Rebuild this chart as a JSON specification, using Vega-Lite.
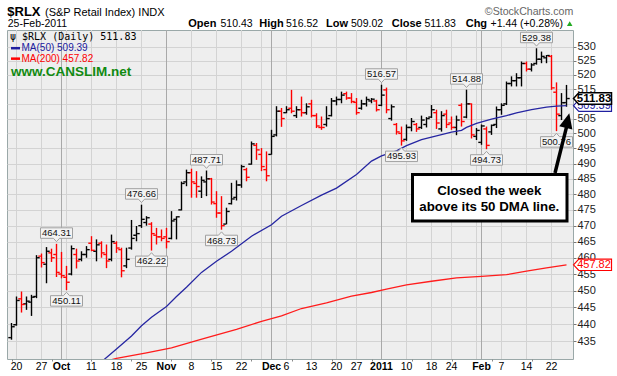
{
  "$schema": "https://vega.github.io/schema/vega-lite/v6.json",
  "width": 566,
  "height": 329,
  "autosize": {"type": "none"},
  "padding": {"left": 7, "top": 30, "right": 44, "bottom": 17},
  "background": "#ffffff",
  "config": {
    "view": {"fill": "#eeeeee", "stroke": "#9aa8a8", "strokeWidth": 1},
    "font": "Liberation Sans"
  },
  "data": {"values": [{}]},
  "datasets": {
    "vgrid": [
      {"i":1,"k":"week"},{"i":6,"k":"week"},{"i":10,"k":"month"},{"i":11,"k":"week"},{"i":16,"k":"week"},{"i":21,"k":"week"},{"i":26,"k":"week"},
      {"i":31,"k":"month"},{"i":36,"k":"week"},{"i":41,"k":"week"},{"i":46,"k":"week"},{"i":50,"k":"week"},{"i":52,"k":"month"},{"i":55,"k":"week"},
      {"i":60,"k":"week"},{"i":65,"k":"week"},{"i":69,"k":"week"},{"i":74,"k":"month"},{"i":79,"k":"week"},{"i":84,"k":"week"},{"i":88,"k":"week"},
      {"i":93,"k":"week"},{"i":94,"k":"month"},{"i":98,"k":"week"},{"i":103,"k":"week"},{"i":108,"k":"week"}
    ],
    "xlab": [
      {"i":1,"t":"20","m":false},{"i":6,"t":"27","m":false},{"i":10,"t":"Oct","m":true},{"i":16,"t":"11","m":false},
      {"i":21,"t":"18","m":false},{"i":26,"t":"25","m":false},{"i":31,"t":"Nov","m":true},{"i":36,"t":"8","m":false},
      {"i":41,"t":"15","m":false},{"i":46,"t":"22","m":false},{"i":52,"t":"Dec","m":true},{"i":55,"t":"6","m":false},
      {"i":60,"t":"13","m":false},{"i":65,"t":"20","m":false},{"i":69,"t":"27","m":false},{"i":74,"t":"2011","m":true},
      {"i":79,"t":"10","m":false},{"i":84,"t":"18","m":false},{"i":88,"t":"24","m":false},{"i":94,"t":"Feb","m":true},
      {"i":98,"t":"7","m":false},{"i":103,"t":"14","m":false},{"i":108,"t":"22","m":false}
    ],
    "bars": [
      {"i":0,"d":"2010-09-17","o":436.0,"h":440.3,"l":435.4,"c":439.2,"dir":"up"},
      {"i":1,"d":"2010-09-20","o":439.8,"h":448.2,"l":439.5,"c":447.0,"dir":"up"},
      {"i":2,"d":"2010-09-21","o":447.5,"h":449.7,"l":443.4,"c":445.8,"dir":"down"},
      {"i":3,"d":"2010-09-22","o":446.0,"h":448.2,"l":444.2,"c":446.8,"dir":"up"},
      {"i":4,"d":"2010-09-23","o":446.5,"h":448.7,"l":442.4,"c":448.0,"dir":"up"},
      {"i":5,"d":"2010-09-24","o":448.2,"h":460.8,"l":447.7,"c":460.0,"dir":"up"},
      {"i":6,"d":"2010-09-27","o":460.5,"h":461.3,"l":457.0,"c":458.5,"dir":"down"},
      {"i":7,"d":"2010-09-28","o":458.0,"h":463.3,"l":452.2,"c":462.0,"dir":"up"},
      {"i":8,"d":"2010-09-29","o":461.5,"h":462.8,"l":458.7,"c":460.0,"dir":"down"},
      {"i":9,"d":"2010-09-30","o":461.0,"h":464.31,"l":454.1,"c":455.5,"dir":"down"},
      {"i":10,"d":"2010-10-01","o":455.0,"h":461.8,"l":453.7,"c":454.5,"dir":"down"},
      {"i":11,"d":"2010-10-04","o":454.0,"h":457.5,"l":450.11,"c":452.5,"dir":"down"},
      {"i":12,"d":"2010-10-05","o":455.0,"h":463.8,"l":454.6,"c":462.8,"dir":"up"},
      {"i":13,"d":"2010-10-06","o":461.0,"h":462.8,"l":456.7,"c":459.0,"dir":"down"},
      {"i":14,"d":"2010-10-07","o":459.5,"h":462.0,"l":458.9,"c":461.0,"dir":"up"},
      {"i":15,"d":"2010-10-08","o":461.0,"h":463.6,"l":460.0,"c":462.5,"dir":"up"},
      {"i":16,"d":"2010-10-11","o":464.5,"h":466.7,"l":462.0,"c":462.3,"dir":"down"},
      {"i":17,"d":"2010-10-12","o":462.0,"h":465.7,"l":458.9,"c":464.0,"dir":"up"},
      {"i":18,"d":"2010-10-13","o":464.5,"h":465.1,"l":460.0,"c":461.5,"dir":"down"},
      {"i":19,"d":"2010-10-14","o":461.0,"h":464.1,"l":456.8,"c":459.0,"dir":"down"},
      {"i":20,"d":"2010-10-15","o":459.5,"h":467.2,"l":458.9,"c":465.0,"dir":"up"},
      {"i":21,"d":"2010-10-18","o":464.5,"h":465.1,"l":461.5,"c":463.0,"dir":"down"},
      {"i":22,"d":"2010-10-19","o":462.5,"h":463.1,"l":454.0,"c":456.0,"dir":"down"},
      {"i":23,"d":"2010-10-20","o":457.5,"h":463.1,"l":456.8,"c":459.5,"dir":"up"},
      {"i":24,"d":"2010-10-21","o":463.0,"h":471.8,"l":462.5,"c":466.0,"dir":"up"},
      {"i":25,"d":"2010-10-22","o":467.0,"h":469.9,"l":465.1,"c":467.5,"dir":"up"},
      {"i":26,"d":"2010-10-25","o":470.0,"h":476.66,"l":469.3,"c":472.0,"dir":"up"},
      {"i":27,"d":"2010-10-26","o":471.0,"h":473.0,"l":470.0,"c":472.5,"dir":"up"},
      {"i":28,"d":"2010-10-27","o":470.5,"h":471.1,"l":462.22,"c":467.5,"dir":"down"},
      {"i":29,"d":"2010-10-28","o":467.0,"h":469.3,"l":464.1,"c":466.5,"dir":"down"},
      {"i":30,"d":"2010-10-29","o":466.5,"h":468.8,"l":465.1,"c":466.0,"dir":"down"},
      {"i":31,"d":"2010-11-01","o":466.5,"h":469.3,"l":462.9,"c":465.0,"dir":"down"},
      {"i":32,"d":"2010-11-02","o":466.0,"h":474.6,"l":465.7,"c":471.5,"dir":"up"},
      {"i":33,"d":"2010-11-03","o":472.0,"h":473.0,"l":465.7,"c":472.8,"dir":"up"},
      {"i":34,"d":"2010-11-04","o":475.0,"h":484.1,"l":474.8,"c":483.5,"dir":"up"},
      {"i":35,"d":"2010-11-05","o":484.0,"h":488.0,"l":482.6,"c":487.0,"dir":"up"},
      {"i":36,"d":"2010-11-08","o":487.0,"h":488.3,"l":478.9,"c":484.0,"dir":"down"},
      {"i":37,"d":"2010-11-09","o":483.5,"h":487.5,"l":478.9,"c":482.5,"dir":"down"},
      {"i":38,"d":"2010-11-10","o":481.0,"h":485.8,"l":478.8,"c":484.5,"dir":"up"},
      {"i":39,"d":"2010-11-11","o":484.0,"h":487.71,"l":479.4,"c":485.0,"dir":"up"},
      {"i":40,"d":"2010-11-12","o":485.0,"h":485.3,"l":476.7,"c":477.5,"dir":"down"},
      {"i":41,"d":"2010-11-15","o":477.0,"h":481.0,"l":472.5,"c":474.0,"dir":"down"},
      {"i":42,"d":"2010-11-16","o":474.0,"h":479.4,"l":468.73,"c":470.0,"dir":"down"},
      {"i":43,"d":"2010-11-17","o":470.5,"h":475.7,"l":470.4,"c":474.5,"dir":"up"},
      {"i":44,"d":"2010-11-18","o":477.0,"h":483.7,"l":476.7,"c":478.5,"dir":"up"},
      {"i":45,"d":"2010-11-19","o":479.0,"h":484.5,"l":478.0,"c":483.0,"dir":"up"},
      {"i":46,"d":"2010-11-22","o":483.0,"h":489.6,"l":482.1,"c":489.0,"dir":"up"},
      {"i":47,"d":"2010-11-23","o":488.0,"h":488.6,"l":484.2,"c":485.5,"dir":"down"},
      {"i":48,"d":"2010-11-24","o":489.8,"h":497.3,"l":489.6,"c":496.5,"dir":"up"},
      {"i":49,"d":"2010-11-26","o":496.0,"h":496.8,"l":491.2,"c":494.5,"dir":"down"},
      {"i":50,"d":"2010-11-29","o":493.0,"h":495.1,"l":487.5,"c":489.0,"dir":"down"},
      {"i":51,"d":"2010-11-30","o":488.0,"h":494.0,"l":484.2,"c":486.0,"dir":"down"},
      {"i":52,"d":"2010-12-01","o":493.0,"h":501.2,"l":492.9,"c":499.0,"dir":"up"},
      {"i":53,"d":"2010-12-02","o":499.5,"h":509.2,"l":499.0,"c":507.5,"dir":"up"},
      {"i":54,"d":"2010-12-03","o":507.5,"h":508.6,"l":502.2,"c":505.0,"dir":"down"},
      {"i":55,"d":"2010-12-06","o":507.0,"h":509.2,"l":506.8,"c":508.0,"dir":"up"},
      {"i":56,"d":"2010-12-07","o":508.5,"h":514.8,"l":506.8,"c":507.5,"dir":"down"},
      {"i":57,"d":"2010-12-08","o":506.0,"h":509.2,"l":505.2,"c":508.0,"dir":"up"},
      {"i":58,"d":"2010-12-09","o":508.0,"h":512.5,"l":505.7,"c":507.0,"dir":"down"},
      {"i":59,"d":"2010-12-10","o":507.0,"h":510.2,"l":506.3,"c":509.0,"dir":"up"},
      {"i":60,"d":"2010-12-13","o":510.0,"h":511.4,"l":505.4,"c":506.0,"dir":"down"},
      {"i":61,"d":"2010-12-14","o":506.0,"h":506.8,"l":501.8,"c":502.5,"dir":"down"},
      {"i":62,"d":"2010-12-15","o":502.0,"h":505.7,"l":501.2,"c":502.0,"dir":"down"},
      {"i":63,"d":"2010-12-16","o":503.0,"h":509.2,"l":502.3,"c":505.0,"dir":"up"},
      {"i":64,"d":"2010-12-17","o":506.0,"h":512.0,"l":505.7,"c":511.0,"dir":"up"},
      {"i":65,"d":"2010-12-20","o":511.0,"h":512.5,"l":509.5,"c":511.5,"dir":"up"},
      {"i":66,"d":"2010-12-21","o":511.5,"h":514.2,"l":510.2,"c":513.0,"dir":"up"},
      {"i":67,"d":"2010-12-22","o":513.5,"h":514.2,"l":511.4,"c":512.0,"dir":"down"},
      {"i":68,"d":"2010-12-23","o":512.0,"h":513.7,"l":510.2,"c":510.8,"dir":"down"},
      {"i":69,"d":"2010-12-27","o":510.5,"h":512.0,"l":506.3,"c":507.0,"dir":"down"},
      {"i":70,"d":"2010-12-28","o":508.5,"h":511.4,"l":508.0,"c":510.0,"dir":"up"},
      {"i":71,"d":"2010-12-29","o":510.0,"h":512.5,"l":509.1,"c":511.5,"dir":"up"},
      {"i":72,"d":"2010-12-30","o":511.0,"h":512.0,"l":510.2,"c":511.6,"dir":"up"},
      {"i":73,"d":"2010-12-31","o":511.0,"h":511.4,"l":507.4,"c":508.0,"dir":"down"},
      {"i":74,"d":"2011-01-03","o":509.5,"h":516.57,"l":509.2,"c":513.0,"dir":"up"},
      {"i":75,"d":"2011-01-04","o":514.8,"h":515.6,"l":506.8,"c":508.0,"dir":"down"},
      {"i":76,"d":"2011-01-05","o":505.0,"h":509.8,"l":504.3,"c":509.0,"dir":"up"},
      {"i":77,"d":"2011-01-06","o":503.0,"h":503.5,"l":499.6,"c":500.5,"dir":"down"},
      {"i":78,"d":"2011-01-07","o":500.0,"h":502.3,"l":495.93,"c":497.5,"dir":"down"},
      {"i":79,"d":"2011-01-10","o":498.0,"h":503.0,"l":497.5,"c":502.0,"dir":"up"},
      {"i":80,"d":"2011-01-11","o":502.0,"h":505.2,"l":500.7,"c":504.0,"dir":"up"},
      {"i":81,"d":"2011-01-12","o":503.0,"h":503.5,"l":500.5,"c":501.5,"dir":"down"},
      {"i":82,"d":"2011-01-13","o":502.0,"h":506.0,"l":501.5,"c":504.5,"dir":"up"},
      {"i":83,"d":"2011-01-14","o":503.0,"h":505.5,"l":502.0,"c":505.0,"dir":"up"},
      {"i":84,"d":"2011-01-18","o":505.5,"h":509.6,"l":505.2,"c":508.0,"dir":"up"},
      {"i":85,"d":"2011-01-19","o":507.0,"h":508.0,"l":501.5,"c":503.5,"dir":"down"},
      {"i":86,"d":"2011-01-20","o":501.5,"h":507.5,"l":500.6,"c":506.0,"dir":"up"},
      {"i":87,"d":"2011-01-21","o":506.5,"h":508.0,"l":501.8,"c":503.0,"dir":"down"},
      {"i":88,"d":"2011-01-24","o":503.5,"h":505.7,"l":501.2,"c":502.0,"dir":"down"},
      {"i":89,"d":"2011-01-25","o":502.0,"h":506.0,"l":499.4,"c":504.5,"dir":"up"},
      {"i":90,"d":"2011-01-26","o":509.5,"h":510.2,"l":502.3,"c":504.0,"dir":"down"},
      {"i":91,"d":"2011-01-27","o":505.5,"h":514.88,"l":505.1,"c":510.0,"dir":"up"},
      {"i":92,"d":"2011-01-28","o":510.0,"h":510.2,"l":498.3,"c":499.5,"dir":"down"},
      {"i":93,"d":"2011-01-31","o":499.0,"h":501.8,"l":497.8,"c":501.0,"dir":"up"},
      {"i":94,"d":"2011-02-01","o":497.0,"h":503.0,"l":496.2,"c":502.5,"dir":"up"},
      {"i":95,"d":"2011-02-02","o":501.5,"h":502.3,"l":494.73,"c":496.0,"dir":"down"},
      {"i":96,"d":"2011-02-03","o":500.5,"h":503.0,"l":499.5,"c":502.7,"dir":"up"},
      {"i":97,"d":"2011-02-04","o":503.0,"h":509.1,"l":501.8,"c":508.0,"dir":"up"},
      {"i":98,"d":"2011-02-07","o":508.0,"h":510.2,"l":506.3,"c":509.5,"dir":"up"},
      {"i":99,"d":"2011-02-08","o":510.0,"h":517.7,"l":509.6,"c":517.0,"dir":"up"},
      {"i":100,"d":"2011-02-09","o":517.0,"h":519.5,"l":516.0,"c":518.0,"dir":"up"},
      {"i":101,"d":"2011-02-10","o":518.0,"h":520.6,"l":516.0,"c":519.0,"dir":"up"},
      {"i":102,"d":"2011-02-11","o":519.0,"h":524.7,"l":516.0,"c":524.0,"dir":"up"},
      {"i":103,"d":"2011-02-14","o":524.0,"h":524.7,"l":521.2,"c":522.0,"dir":"down"},
      {"i":104,"d":"2011-02-15","o":522.0,"h":524.1,"l":521.2,"c":523.5,"dir":"up"},
      {"i":105,"d":"2011-02-16","o":524.0,"h":529.38,"l":523.6,"c":525.5,"dir":"up"},
      {"i":106,"d":"2011-02-17","o":525.5,"h":528.2,"l":524.1,"c":526.5,"dir":"up"},
      {"i":107,"d":"2011-02-18","o":526.0,"h":527.0,"l":524.1,"c":526.8,"dir":"up"},
      {"i":108,"d":"2011-02-22","o":526.5,"h":527.0,"l":514.8,"c":515.5,"dir":"down"},
      {"i":109,"d":"2011-02-23","o":514.0,"h":517.4,"l":500.76,"c":506.5,"dir":"down"},
      {"i":110,"d":"2011-02-24","o":506.0,"h":513.7,"l":504.5,"c":510.39,"dir":"up"},
      {"i":111,"d":"2011-02-25","o":510.43,"h":516.52,"l":509.02,"c":511.83,"dir":"up"}
    ],
    "ma50": [
      {"i":18,"v":429.0},{"i":21,"v":432.7},{"i":24,"v":436.5},{"i":26,"v":439.5},{"i":28,"v":442.0},
      {"i":31,"v":445.2},{"i":33,"v":448.2},{"i":35,"v":451.0},{"i":38,"v":455.5},{"i":41,"v":458.9},
      {"i":44,"v":462.0},{"i":48,"v":466.7},{"i":52,"v":470.3},{"i":54,"v":473.0},{"i":58,"v":476.4},
      {"i":62,"v":479.7},{"i":65,"v":482.0},{"i":69,"v":486.4},{"i":72,"v":490.8},{"i":74,"v":492.5},
      {"i":77,"v":494.2},{"i":79,"v":495.9},{"i":82,"v":497.9},{"i":85,"v":499.2},{"i":88,"v":500.4},
      {"i":90,"v":501.0},{"i":91,"v":502.0},{"i":93,"v":503.4},{"i":96,"v":504.8},{"i":99,"v":506.0},
      {"i":101,"v":506.9},{"i":104,"v":508.0},{"i":107,"v":508.9},{"i":109,"v":509.2},{"i":111,"v":509.39}
    ],
    "ma200": [
      {"i":20,"v":429.6},{"i":21,"v":430.0},{"i":27,"v":431.6},{"i":32,"v":433.0},{"i":37,"v":435.1},
      {"i":40,"v":436.4},{"i":45,"v":438.4},{"i":50,"v":440.8},{"i":54,"v":442.4},{"i":58,"v":444.6},
      {"i":63,"v":446.3},{"i":68,"v":448.3},{"i":72,"v":449.4},{"i":75,"v":450.4},{"i":79,"v":451.7},
      {"i":84,"v":452.8},{"i":89,"v":453.8},{"i":94,"v":454.3},{"i":99,"v":454.8},{"i":103,"v":455.9},
      {"i":107,"v":456.9},{"i":111,"v":457.82}
    ],
    "hilab": [
      {"i":9,"v":464.31},{"i":26,"v":476.66},{"i":39,"v":487.71},{"i":74,"v":516.57},{"i":91,"v":514.88},{"i":105,"v":529.38}
    ],
    "lolab": [
      {"i":11,"v":450.11},{"i":28,"v":462.22},{"i":42,"v":468.73},{"i":78,"v":495.93},{"i":95,"v":494.73},{"i":109,"v":500.76}
    ],
    "tags": [
      {"s":"ma200","i":111,"v":457.82},{"s":"ma50","i":111,"v":509.39},{"s":"price","i":111,"v":511.83}
    ]
  },
  "layer": [
    {
      "data": {"name": "vgrid"},
      "mark": {"type": "rule", "strokeWidth": 1},
      "encoding": {
        "x": {"field": "i", "type": "quantitative", "scale": {"domain": [-0.9, 112.3], "nice": false, "zero": false},
          "axis": {
            "title": null, "orient": "bottom", "domain": false, "grid": false, "labels": false,
            "values": [0,1,2,3,4,5,6,7,8,9,10,11,12,13,14,15,16,17,18,19,20,21,22,23,24,25,26,27,28,29,30,31,32,33,34,35,36,37,38,39,40,41,42,43,44,45,46,47,48,49,50,51,52,53,54,55,56,57,58,59,60,61,62,63,64,65,66,67,68,69,70,71,72,73,74,75,76,77,78,79,80,81,82,83,84,85,86,87,88,89,90,91,92,93,94,95,96,97,98,99,100,101,102,103,104,105,106,107,108,109,110,111],
            "tickSize": 2, "tickColor": "#888888", "tickWidth": 1
          }
        },
        "stroke": {"field": "k", "type": "nominal", "scale": {"domain": ["week", "month"], "range": ["#d3d3d3", "#a9a9a9"]}, "legend": null}
      }
    },
    {
      "data": {"name": "bars"},
      "mark": {"type": "rule", "strokeWidth": 1.4},
      "encoding": {
        "x": {"field": "i", "type": "quantitative", "scale": {"domain": [-0.9, 112.3], "nice": false, "zero": false}},
        "y": {"field": "l", "type": "quantitative", "scale": {"type": "log", "domain": [429.8, 535.9], "nice": false},
          "axis": {
            "title": null, "orient": "right", "domain": false, "format": "d",
            "values": [435,440,445,450,455,460,465,470,475,480,485,490,495,500,505,510,515,520,525,530],
            "labelOverlap": false, "labelFlush": false, "labelFontSize": 11, "labelColor": "#222222", "labelPadding": 1,
            "tickSize": 3, "tickColor": "#777777",
            "grid": true, "gridColor": "#d3d3d3"
          }
        },
        "y2": {"field": "h"},
        "color": {"field": "dir", "type": "nominal", "scale": {"domain": ["up", "down"], "range": ["#000000", "#ff0000"]}, "legend": null}
      }
    },
    {
      "data": {"name": "bars"},
      "mark": {"type": "tick", "orient": "horizontal", "size": 2.6, "thickness": 1.4, "xOffset": -1.9, "opacity": 1},
      "encoding": {
        "x": {"field": "i", "type": "quantitative", "scale": {"domain": [-0.9, 112.3], "nice": false, "zero": false}},
        "y": {"field": "o", "type": "quantitative", "scale": {"type": "log", "domain": [429.8, 535.9], "nice": false}},
        "color": {"field": "dir", "type": "nominal", "scale": {"domain": ["up", "down"], "range": ["#000000", "#ff0000"]}, "legend": null}
      }
    },
    {
      "data": {"name": "bars"},
      "mark": {"type": "tick", "orient": "horizontal", "size": 2.6, "thickness": 1.4, "xOffset": 1.9, "opacity": 1},
      "encoding": {
        "x": {"field": "i", "type": "quantitative", "scale": {"domain": [-0.9, 112.3], "nice": false, "zero": false}},
        "y": {"field": "c", "type": "quantitative", "scale": {"type": "log", "domain": [429.8, 535.9], "nice": false}},
        "color": {"field": "dir", "type": "nominal", "scale": {"domain": ["up", "down"], "range": ["#000000", "#ff0000"]}, "legend": null}
      }
    },
    {
      "data": {"name": "xlab"},
      "transform": [{"filter": "datum.m"}],
      "mark": {"type": "text", "baseline": "middle", "align": "center", "fontSize": 10.5, "fontWeight": "bold", "color": "#000000"},
      "encoding": {
        "x": {"field": "i", "type": "quantitative", "scale": {"domain": [-0.9, 112.3], "nice": false, "zero": false}},
        "y": {"datum": 427.64, "type": "quantitative", "scale": {"type": "log", "domain": [429.8, 535.9], "nice": false}},
        "text": {"field": "t", "type": "nominal"}
      }
    },
    {
      "data": {"name": "xlab"},
      "transform": [{"filter": "!datum.m"}],
      "mark": {"type": "text", "baseline": "middle", "align": "center", "fontSize": 10.5, "color": "#000000"},
      "encoding": {
        "x": {"field": "i", "type": "quantitative", "scale": {"domain": [-0.9, 112.3], "nice": false, "zero": false}},
        "y": {"datum": 427.64, "type": "quantitative", "scale": {"type": "log", "domain": [429.8, 535.9], "nice": false}},
        "text": {"field": "t", "type": "nominal"}
      }
    },
    {
      "data": {"name": "ma50"},
      "mark": {"type": "line", "color": "#2626a2", "strokeWidth": 1.3, "clip": true},
      "encoding": {
        "x": {"field": "i", "type": "quantitative", "scale": {"domain": [-0.9, 112.3], "nice": false, "zero": false}},
        "y": {"field": "v", "type": "quantitative", "scale": {"type": "log", "domain": [429.8, 535.9], "nice": false}}
      }
    },
    {
      "data": {"name": "ma200"},
      "mark": {"type": "line", "color": "#ff1c1c", "strokeWidth": 1.3, "clip": true},
      "encoding": {
        "x": {"field": "i", "type": "quantitative", "scale": {"domain": [-0.9, 112.3], "nice": false, "zero": false}},
        "y": {"field": "v", "type": "quantitative", "scale": {"type": "log", "domain": [429.8, 535.9], "nice": false}}
      }
    },
    {
      "data": {"name": "hilab"},
      "mark": {"type": "point", "shape": "M-0.889,-0.889L0.889,-0.889L0.889,-0.306L0.17,-0.306L0,-0.12L-0.17,-0.306L-0.889,-0.306Z", "size": 1296, "filled": true, "fill": "#f3f3f3", "stroke": "#a0a0a0", "strokeWidth": 1, "opacity": 1},
      "encoding": {
        "x": {"field": "i", "type": "quantitative", "scale": {"domain": [-0.9, 112.3], "nice": false, "zero": false}},
        "y": {"field": "v", "type": "quantitative", "scale": {"type": "log", "domain": [429.8, 535.9], "nice": false}}
      }
    },
    {
      "data": {"name": "hilab"},
      "mark": {"type": "text", "dy": -10.7, "fontSize": 9.5, "color": "#111111"},
      "encoding": {
        "x": {"field": "i", "type": "quantitative", "scale": {"domain": [-0.9, 112.3], "nice": false, "zero": false}},
        "y": {"field": "v", "type": "quantitative", "scale": {"type": "log", "domain": [429.8, 535.9], "nice": false}},
        "text": {"field": "v", "type": "quantitative", "format": ".2f"}
      }
    },
    {
      "data": {"name": "lolab"},
      "mark": {"type": "point", "shape": "M-0.889,0.889L0.889,0.889L0.889,0.306L0.17,0.306L0,0.12L-0.17,0.306L-0.889,0.306Z", "size": 1296, "filled": true, "fill": "#f3f3f3", "stroke": "#a0a0a0", "strokeWidth": 1, "opacity": 1},
      "encoding": {
        "x": {"field": "i", "type": "quantitative", "scale": {"domain": [-0.9, 112.3], "nice": false, "zero": false}},
        "y": {"field": "v", "type": "quantitative", "scale": {"type": "log", "domain": [429.8, 535.9], "nice": false}}
      }
    },
    {
      "data": {"name": "lolab"},
      "mark": {"type": "text", "dy": 10.9, "fontSize": 9.5, "color": "#111111"},
      "encoding": {
        "x": {"field": "i", "type": "quantitative", "scale": {"domain": [-0.9, 112.3], "nice": false, "zero": false}},
        "y": {"field": "v", "type": "quantitative", "scale": {"type": "log", "domain": [429.8, 535.9], "nice": false}},
        "text": {"field": "v", "type": "quantitative", "format": ".2f"}
      }
    },
    {
      "data": {"name": "tags"},
      "transform": [{"filter": "datum.s == 'ma200'"}],
      "mark": {"type": "point", "shape": "M-1,0L-0.72,-0.3L1,-0.3L1,0.3L-0.72,0.3Z", "size": 1444, "filled": true, "fill": "#ffffff", "stroke": "#ff0000", "strokeWidth": 1.2, "opacity": 1, "xOffset": 26},
      "encoding": {
        "x": {"field": "i", "type": "quantitative", "scale": {"domain": [-0.9, 112.3], "nice": false, "zero": false}},
        "y": {"field": "v", "type": "quantitative", "scale": {"type": "log", "domain": [429.8, 535.9], "nice": false}}
      }
    },
    {
      "data": {"name": "tags"},
      "transform": [{"filter": "datum.s == 'ma200'"}],
      "mark": {"type": "text", "dx": 27.5, "fontSize": 11, "color": "#ff0000"},
      "encoding": {
        "x": {"field": "i", "type": "quantitative", "scale": {"domain": [-0.9, 112.3], "nice": false, "zero": false}},
        "y": {"field": "v", "type": "quantitative", "scale": {"type": "log", "domain": [429.8, 535.9], "nice": false}},
        "text": {"field": "v", "type": "quantitative", "format": ".2f"}
      }
    },
    {
      "data": {"name": "tags"},
      "transform": [{"filter": "datum.s == 'ma50'"}],
      "mark": {"type": "point", "shape": "M-1,0L-0.72,-0.3L1,-0.3L1,0.3L-0.72,0.3Z", "size": 1444, "filled": true, "fill": "#ffffff", "stroke": "#2020a0", "strokeWidth": 1.2, "opacity": 1, "xOffset": 26},
      "encoding": {
        "x": {"field": "i", "type": "quantitative", "scale": {"domain": [-0.9, 112.3], "nice": false, "zero": false}},
        "y": {"field": "v", "type": "quantitative", "scale": {"type": "log", "domain": [429.8, 535.9], "nice": false}}
      }
    },
    {
      "data": {"name": "tags"},
      "transform": [{"filter": "datum.s == 'ma50'"}],
      "mark": {"type": "text", "dx": 27.5, "fontSize": 11, "color": "#2020a0"},
      "encoding": {
        "x": {"field": "i", "type": "quantitative", "scale": {"domain": [-0.9, 112.3], "nice": false, "zero": false}},
        "y": {"field": "v", "type": "quantitative", "scale": {"type": "log", "domain": [429.8, 535.9], "nice": false}},
        "text": {"field": "v", "type": "quantitative", "format": ".2f"}
      }
    },
    {
      "data": {"name": "tags"},
      "transform": [{"filter": "datum.s == 'price'"}],
      "mark": {"type": "point", "shape": "M-1,0L-0.72,-0.3L1,-0.3L1,0.3L-0.72,0.3Z", "size": 1444, "filled": true, "fill": "#ffffff", "stroke": "#000000", "strokeWidth": 1.5, "opacity": 1, "xOffset": 26},
      "encoding": {
        "x": {"field": "i", "type": "quantitative", "scale": {"domain": [-0.9, 112.3], "nice": false, "zero": false}},
        "y": {"field": "v", "type": "quantitative", "scale": {"type": "log", "domain": [429.8, 535.9], "nice": false}}
      }
    },
    {
      "data": {"name": "tags"},
      "transform": [{"filter": "datum.s == 'price'"}],
      "mark": {"type": "text", "dx": 27.5, "fontSize": 11.5, "fontWeight": "bold", "color": "#000000"},
      "encoding": {
        "x": {"field": "i", "type": "quantitative", "scale": {"domain": [-0.9, 112.3], "nice": false, "zero": false}},
        "y": {"field": "v", "type": "quantitative", "scale": {"type": "log", "domain": [429.8, 535.9], "nice": false}},
        "text": {"field": "v", "type": "quantitative", "format": ".2f"}
      }
    },
    {
      "mark": {"type": "rect", "fill": "#ffffff", "stroke": "#000000", "strokeWidth": 3},
      "encoding": {
        "x": {"datum": 80.2, "type": "quantitative", "scale": {"domain": [-0.9, 112.3], "nice": false, "zero": false}},
        "x2": {"datum": 111.1},
        "y": {"datum": 486.4, "type": "quantitative", "scale": {"type": "log", "domain": [429.8, 535.9], "nice": false}},
        "y2": {"datum": 471.5}
      }
    },
    {
      "mark": {"type": "text", "align": "center", "baseline": "alphabetic", "fontSize": 13.3, "fontWeight": "bold", "lineHeight": 15.4, "color": "#000000"},
      "encoding": {
        "x": {"datum": 95.56, "type": "quantitative", "scale": {"domain": [-0.9, 112.3], "nice": false, "zero": false}},
        "y": {"datum": 479.67, "type": "quantitative", "scale": {"type": "log", "domain": [429.8, 535.9], "nice": false}},
        "text": {"value": ["Closed the week", "above its 50 DMA line."]}
      }
    },
    {
      "mark": {"type": "rule", "strokeWidth": 3.5, "color": "#000000"},
      "encoding": {
        "x": {"datum": 108.7, "type": "quantitative", "scale": {"domain": [-0.9, 112.3], "nice": false, "zero": false}},
        "x2": {"datum": 111.0},
        "y": {"datum": 486.9, "type": "quantitative", "scale": {"type": "log", "domain": [429.8, 535.9], "nice": false}},
        "y2": {"datum": 502.1}
      }
    },
    {
      "mark": {"type": "point", "shape": "M0,0L0.45,1L-0.45,1Z", "size": 900, "filled": true, "color": "#000000", "opacity": 1, "angle": 13.4},
      "encoding": {
        "x": {"datum": 111.56, "type": "quantitative", "scale": {"domain": [-0.9, 112.3], "nice": false, "zero": false}},
        "y": {"datum": 506.8, "type": "quantitative", "scale": {"type": "log", "domain": [429.8, 535.9], "nice": false}}
      }
    },
    {
      "mark": {"type": "text", "align": "left", "baseline": "alphabetic", "font": "DejaVu Sans Mono", "fontSize": 10, "color": "#000000"},
      "encoding": {
        "x": {"datum": -0.3, "type": "quantitative", "scale": {"domain": [-0.9, 112.3], "nice": false, "zero": false}},
        "y": {"datum": 532.35, "type": "quantitative", "scale": {"type": "log", "domain": [429.8, 535.9], "nice": false}},
        "text": {"value": "ψ $RLX (Daily) 511.83"}
      }
    },
    {
      "mark": {"type": "rule", "strokeWidth": 2.5, "color": "#2020a0"},
      "encoding": {
        "x": {"datum": -0.1, "type": "quantitative", "scale": {"domain": [-0.9, 112.3], "nice": false, "zero": false}},
        "x2": {"datum": 1.7},
        "y": {"datum": 529.4, "type": "quantitative", "scale": {"type": "log", "domain": [429.8, 535.9], "nice": false}}
      }
    },
    {
      "mark": {"type": "text", "align": "left", "baseline": "alphabetic", "fontSize": 10, "color": "#2020a0"},
      "encoding": {
        "x": {"datum": 2.0, "type": "quantitative", "scale": {"domain": [-0.9, 112.3], "nice": false, "zero": false}},
        "y": {"datum": 528.33, "type": "quantitative", "scale": {"type": "log", "domain": [429.8, 535.9], "nice": false}},
        "text": {"value": "MA(50) 509.39"}
      }
    },
    {
      "mark": {"type": "rule", "strokeWidth": 2.5, "color": "#ff0000"},
      "encoding": {
        "x": {"datum": -0.1, "type": "quantitative", "scale": {"domain": [-0.9, 112.3], "nice": false, "zero": false}},
        "x2": {"datum": 1.7},
        "y": {"datum": 525.7, "type": "quantitative", "scale": {"type": "log", "domain": [429.8, 535.9], "nice": false}}
      }
    },
    {
      "mark": {"type": "text", "align": "left", "baseline": "alphabetic", "fontSize": 10, "color": "#ff0000"},
      "encoding": {
        "x": {"datum": 2.0, "type": "quantitative", "scale": {"domain": [-0.9, 112.3], "nice": false, "zero": false}},
        "y": {"datum": 524.46, "type": "quantitative", "scale": {"type": "log", "domain": [429.8, 535.9], "nice": false}},
        "text": {"value": "MA(200) 457.82"}
      }
    },
    {
      "mark": {"type": "text", "align": "left", "baseline": "alphabetic", "fontSize": 13.5, "fontWeight": "bold", "color": "#118a11"},
      "encoding": {
        "x": {"datum": -0.1, "type": "quantitative", "scale": {"domain": [-0.9, 112.3], "nice": false, "zero": false}},
        "y": {"datum": 519.56, "type": "quantitative", "scale": {"type": "log", "domain": [429.8, 535.9], "nice": false}},
        "text": {"value": "www.CANSLIM.net"}
      }
    },
    {
      "mark": {"type": "text", "align": "left", "baseline": "alphabetic", "fontSize": 13, "fontWeight": "bold", "color": "#000000"},
      "encoding": {
        "x": {"datum": -0.84, "type": "quantitative", "scale": {"domain": [-0.9, 112.3], "nice": false, "zero": false}},
        "y": {"datum": 540.87, "type": "quantitative", "scale": {"type": "log", "domain": [429.8, 535.9], "nice": false}},
        "text": {"value": "$RLX"}
      }
    },
    {
      "mark": {"type": "text", "align": "left", "baseline": "alphabetic", "fontSize": 11, "color": "#000000"},
      "encoding": {
        "x": {"datum": 6.7, "type": "quantitative", "scale": {"domain": [-0.9, 112.3], "nice": false, "zero": false}},
        "y": {"datum": 540.87, "type": "quantitative", "scale": {"type": "log", "domain": [429.8, 535.9], "nice": false}},
        "text": {"value": "(S&P Retail Index) INDX"}
      }
    },
    {
      "mark": {"type": "text", "align": "right", "baseline": "alphabetic", "fontSize": 10.6, "color": "#666666"},
      "encoding": {
        "x": {"datum": 112.36, "type": "quantitative", "scale": {"domain": [-0.9, 112.3], "nice": false, "zero": false}},
        "y": {"datum": 541.41, "type": "quantitative", "scale": {"type": "log", "domain": [429.8, 535.9], "nice": false}},
        "text": {"value": "©StockCharts.com"}
      }
    },
    {
      "mark": {"type": "text", "align": "left", "baseline": "alphabetic", "fontSize": 10.5, "color": "#000000"},
      "encoding": {
        "x": {"datum": -0.76, "type": "quantitative", "scale": {"domain": [-0.9, 112.3], "nice": false, "zero": false}},
        "y": {"datum": 537.07, "type": "quantitative", "scale": {"type": "log", "domain": [429.8, 535.9], "nice": false}},
        "text": {"value": "25-Feb-2011"}
      }
    },
    {
      "mark": {"type": "text", "align": "left", "baseline": "alphabetic", "fontSize": 11, "fontWeight": "bold", "color": "#000000"},
      "encoding": {
        "x": {"datum": 35.36, "type": "quantitative", "scale": {"domain": [-0.9, 112.3], "nice": false, "zero": false}},
        "y": {"datum": 537.07, "type": "quantitative", "scale": {"type": "log", "domain": [429.8, 535.9], "nice": false}},
        "text": {"value": "Open"}
      }
    },
    {
      "mark": {"type": "text", "align": "left", "baseline": "alphabetic", "fontSize": 10.5, "color": "#000000"},
      "encoding": {
        "x": {"datum": 41.8, "type": "quantitative", "scale": {"domain": [-0.9, 112.3], "nice": false, "zero": false}},
        "y": {"datum": 537.07, "type": "quantitative", "scale": {"type": "log", "domain": [429.8, 535.9], "nice": false}},
        "text": {"value": "510.43"}
      }
    },
    {
      "mark": {"type": "text", "align": "left", "baseline": "alphabetic", "fontSize": 11, "fontWeight": "bold", "color": "#000000"},
      "encoding": {
        "x": {"datum": 49.56, "type": "quantitative", "scale": {"domain": [-0.9, 112.3], "nice": false, "zero": false}},
        "y": {"datum": 537.07, "type": "quantitative", "scale": {"type": "log", "domain": [429.8, 535.9], "nice": false}},
        "text": {"value": "High"}
      }
    },
    {
      "mark": {"type": "text", "align": "left", "baseline": "alphabetic", "fontSize": 10.5, "color": "#000000"},
      "encoding": {
        "x": {"datum": 54.9, "type": "quantitative", "scale": {"domain": [-0.9, 112.3], "nice": false, "zero": false}},
        "y": {"datum": 537.07, "type": "quantitative", "scale": {"type": "log", "domain": [429.8, 535.9], "nice": false}},
        "text": {"value": "516.52"}
      }
    },
    {
      "mark": {"type": "text", "align": "left", "baseline": "alphabetic", "fontSize": 11, "fontWeight": "bold", "color": "#000000"},
      "encoding": {
        "x": {"datum": 62.9, "type": "quantitative", "scale": {"domain": [-0.9, 112.3], "nice": false, "zero": false}},
        "y": {"datum": 537.07, "type": "quantitative", "scale": {"type": "log", "domain": [429.8, 535.9], "nice": false}},
        "text": {"value": "Low"}
      }
    },
    {
      "mark": {"type": "text", "align": "left", "baseline": "alphabetic", "fontSize": 10.5, "color": "#000000"},
      "encoding": {
        "x": {"datum": 67.9, "type": "quantitative", "scale": {"domain": [-0.9, 112.3], "nice": false, "zero": false}},
        "y": {"datum": 537.07, "type": "quantitative", "scale": {"type": "log", "domain": [429.8, 535.9], "nice": false}},
        "text": {"value": "509.02"}
      }
    },
    {
      "mark": {"type": "text", "align": "left", "baseline": "alphabetic", "fontSize": 11, "fontWeight": "bold", "color": "#000000"},
      "encoding": {
        "x": {"datum": 76.04, "type": "quantitative", "scale": {"domain": [-0.9, 112.3], "nice": false, "zero": false}},
        "y": {"datum": 537.07, "type": "quantitative", "scale": {"type": "log", "domain": [429.8, 535.9], "nice": false}},
        "text": {"value": "Close"}
      }
    },
    {
      "mark": {"type": "text", "align": "left", "baseline": "alphabetic", "fontSize": 10.5, "color": "#000000"},
      "encoding": {
        "x": {"datum": 82.6, "type": "quantitative", "scale": {"domain": [-0.9, 112.3], "nice": false, "zero": false}},
        "y": {"datum": 537.07, "type": "quantitative", "scale": {"type": "log", "domain": [429.8, 535.9], "nice": false}},
        "text": {"value": "511.83"}
      }
    },
    {
      "mark": {"type": "text", "align": "left", "baseline": "alphabetic", "fontSize": 11, "fontWeight": "bold", "color": "#000000"},
      "encoding": {
        "x": {"datum": 90.84, "type": "quantitative", "scale": {"domain": [-0.9, 112.3], "nice": false, "zero": false}},
        "y": {"datum": 537.07, "type": "quantitative", "scale": {"type": "log", "domain": [429.8, 535.9], "nice": false}},
        "text": {"value": "Chg"}
      }
    },
    {
      "mark": {"type": "text", "align": "left", "baseline": "alphabetic", "fontSize": 10.5, "color": "#000000"},
      "encoding": {
        "x": {"datum": 95.8, "type": "quantitative", "scale": {"domain": [-0.9, 112.3], "nice": false, "zero": false}},
        "y": {"datum": 537.07, "type": "quantitative", "scale": {"type": "log", "domain": [429.8, 535.9], "nice": false}},
        "text": {"value": "+1.44 (+0.28%)"}
      }
    },
    {
      "mark": {"type": "point", "shape": "triangle-up", "size": 30, "filled": true, "color": "#22aa22", "opacity": 1},
      "encoding": {
        "x": {"datum": 111.64, "type": "quantitative", "scale": {"domain": [-0.9, 112.3], "nice": false, "zero": false}},
        "y": {"datum": 538.2, "type": "quantitative", "scale": {"type": "log", "domain": [429.8, 535.9], "nice": false}}
      }
    }
  ]
}
